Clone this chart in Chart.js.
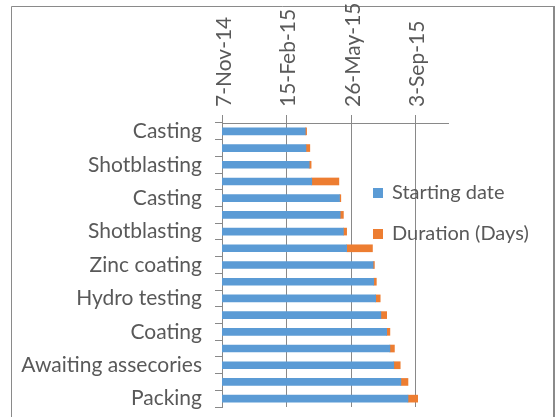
<!DOCTYPE html>
<html><head><meta charset="utf-8">
<script src="https://cdn.jsdelivr.net/npm/chart.js@4.4.1/dist/chart.umd.min.js"></script>
<style>html,body{margin:0;padding:0;background:#fff;} canvas{display:block}</style>
</head><body>
<canvas id="c" width="555" height="417"></canvas>
<script>
// Task categories (only every other one is labelled in the source chart)
const categories = ['Casting','','Shotblasting','','Casting','','Shotblasting','','Zinc coating','','Hydro testing','','Coating','','Awaiting assecories','','Packing'];
// Starting date as Excel date serials
const startSerial = [42079,42080,42085,42089,42132,42133,42138,42143,42184,42185,42188,42196,42205,42210,42216,42227,42238];
// Duration in days
const durationDays = [2,6,3,42,2,5,5,40,2,4,7,9,5,7,10,11,15];
const seriesNames = ['Starting date','Duration (Days)'];
// Date axis tick values (Excel serials): 7-Nov-14, 15-Feb-15, 26-May-15, 3-Sep-15
const dateTicks = [41950,42050,42150,42250];
const axisMin = 41950, axisMax = 42300;

const FONT_FAMILY = 'Lato';
const FONT_SIZE = 21;
const LEGEND_FONT_SIZE = 20;
const TEXT = '#595959';
const LINE = '#898989';
const MONTHS = ['Jan','Feb','Mar','Apr','May','Jun','Jul','Aug','Sep','Oct','Nov','Dec'];
function serialToLabel(s){
  const d = new Date(Date.UTC(1899,11,30) + s*86400000);
  return d.getUTCDate() + '-' + MONTHS[d.getUTCMonth()] + '-' + String(d.getUTCFullYear()).slice(2);
}

const framePlugin = {
  id:'frame',
  beforeDraw(chart){
    const ctx = chart.ctx;
    ctx.save();
    ctx.fillStyle = '#fff';
    ctx.fillRect(0,0,chart.width,chart.height);
    ctx.strokeStyle = '#8a8a8a';
    ctx.lineWidth = 1;
    ctx.beginPath();
    ctx.moveTo(11.5, chart.height); ctx.lineTo(11.5, 6.5); ctx.lineTo(553, 6.5);
    ctx.stroke();
    ctx.lineWidth = 2;
    ctx.beginPath();
    ctx.moveTo(554, 6); ctx.lineTo(554, chart.height);
    ctx.stroke();
    ctx.restore();
  }
};

const legendPlugin = {
  id:'sideLegend',
  afterDraw(chart){
    const ctx = chart.ctx;
    ctx.save();
    ctx.font = LEGEND_FONT_SIZE + 'px ' + FONT_FAMILY;
    ctx.textBaseline = 'middle';
    ctx.textAlign = 'left';
    chart.data.datasets.forEach((ds,i)=>{
      const y = 193 + i*41;
      ctx.fillStyle = ds.backgroundColor;
      ctx.fillRect(373, y-5, 10, 10);
      ctx.fillStyle = TEXT;
      ctx.fillText(ds.label, 392, y);
    });
    ctx.restore();
  }
};

new Chart(document.getElementById('c'), {
  type:'bar',
  data:{
    labels: categories,
    datasets:[
      {label: seriesNames[0], data: startSerial, backgroundColor:'#5B9BD5', barThickness:7},
      {label: seriesNames[1], data: durationDays, backgroundColor:'#ED7D31', barThickness:7}
    ]
  },
  options:{
    indexAxis:'y',
    responsive:false,
    animation:false,
    layout:{padding:{left:0, top:0, right:107, bottom:10}},
    plugins:{legend:{display:false}, tooltip:{enabled:false}},
    scales:{
      x:{
        type:'linear', position:'top', stacked:true,
        min: axisMin, max: axisMax,
        afterBuildTicks(s){ s.ticks = dateTicks.map(v => ({value:v})); },
        afterFit(s){ s.height = 123; s.paddingLeft = 0; s.paddingRight = 0; },
        ticks:{autoSkip:false, maxRotation:90, minRotation:90, padding:8,
          labelOffset: Math.round(FONT_SIZE*1.2) + 2,
          color: TEXT, font:{family:FONT_FAMILY, size:FONT_SIZE},
          callback: v => serialToLabel(v)},
        grid:{color: LINE, tickLength:8, drawTicks:true},
        border:{color: LINE}
      },
      y:{
        type:'category', stacked:true, offset:true,
        afterFit(s){ s.width = 222; s.paddingTop = 0; s.paddingBottom = 0; },
        ticks:{autoSkip:false, padding:13, color: TEXT, font:{family:FONT_FAMILY, size:FONT_SIZE}},
        grid:{drawOnChartArea:false, tickLength:7, color: LINE, offset:true},
        border:{color: LINE}
      }
    }
  },
  plugins:[framePlugin, legendPlugin]
});
</script>
</body></html>
